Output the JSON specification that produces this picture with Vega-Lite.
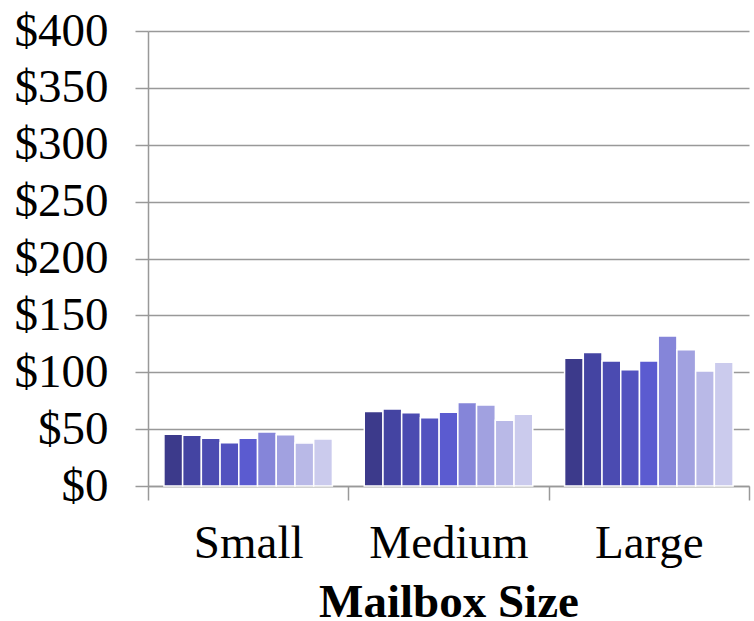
{
  "$schema": "https://vega.github.io/schema/vega-lite/v6.json",
  "width": 601,
  "height": 455,
  "autosize": {"type": "none"},
  "padding": {"left": 148, "top": 31, "right": 5, "bottom": 135},
  "background": "white",
  "config": {
    "view": {"stroke": null},
    "font": "Liberation Serif"
  },
  "data": {
    "values": [
      {"size": "Small", "series": "S1", "cost": 45.5},
      {"size": "Small", "series": "S2", "cost": 44.6},
      {"size": "Small", "series": "S3", "cost": 42},
      {"size": "Small", "series": "S4", "cost": 38},
      {"size": "Small", "series": "S5", "cost": 42},
      {"size": "Small", "series": "S6", "cost": 47.5},
      {"size": "Small", "series": "S7", "cost": 45},
      {"size": "Small", "series": "S8", "cost": 37.9},
      {"size": "Small", "series": "S9", "cost": 41.4},
      {"size": "Medium", "series": "S1", "cost": 65.4},
      {"size": "Medium", "series": "S2", "cost": 67.8},
      {"size": "Medium", "series": "S3", "cost": 64.3},
      {"size": "Medium", "series": "S4", "cost": 59.9},
      {"size": "Medium", "series": "S5", "cost": 64.9},
      {"size": "Medium", "series": "S6", "cost": 73.3},
      {"size": "Medium", "series": "S7", "cost": 71.3},
      {"size": "Medium", "series": "S8", "cost": 57.8},
      {"size": "Medium", "series": "S9", "cost": 63.1},
      {"size": "Large", "series": "S1", "cost": 112.4},
      {"size": "Large", "series": "S2", "cost": 117.3},
      {"size": "Large", "series": "S3", "cost": 109.8},
      {"size": "Large", "series": "S4", "cost": 102.1},
      {"size": "Large", "series": "S5", "cost": 110},
      {"size": "Large", "series": "S6", "cost": 131.8},
      {"size": "Large", "series": "S7", "cost": 119.7},
      {"size": "Large", "series": "S8", "cost": 101.2},
      {"size": "Large", "series": "S9", "cost": 108.9}
    ]
  },
  "mark": {"type": "bar", "stroke": "white", "strokeWidth": 1.5},
  "encoding": {
    "x": {
      "field": "size",
      "type": "nominal",
      "sort": ["Small", "Medium", "Large"],
      "scale": {"paddingInner": 0, "paddingOuter": 0},
      "axis": {
        "title": "Mailbox Size",
        "titleFont": "Liberation Serif",
        "titleFontSize": 47,
        "titleFontWeight": "bold",
        "titleColor": "black",
        "titlePadding": 13,
        "labelFont": "Liberation Serif",
        "labelFontSize": 47,
        "labelColor": "black",
        "labelAngle": 0,
        "labelPadding": 20,
        "tickBand": "extent",
        "tickSize": 14,
        "tickColor": "#999999",
        "tickWidth": 1.5,
        "domainColor": "#999999",
        "domainWidth": 1.5,
        "grid": false
      }
    },
    "xOffset": {
      "field": "series",
      "type": "nominal",
      "scale": {"paddingInner": 0, "paddingOuter": 0.85}
    },
    "y": {
      "field": "cost",
      "type": "quantitative",
      "scale": {"domain": [0, 400]},
      "axis": {
        "title": null,
        "values": [0, 50, 100, 150, 200, 250, 300, 350, 400],
        "format": "$,.0f",
        "labelFont": "Liberation Serif",
        "labelFontSize": 47,
        "labelColor": "black",
        "labelPadding": 27,
        "tickSize": 13,
        "tickColor": "#999999",
        "tickWidth": 1.5,
        "domainColor": "#999999",
        "domainWidth": 1.5,
        "gridColor": "#999999",
        "gridWidth": 1.5,
        "labelOverlap": false
      }
    },
    "color": {
      "field": "series",
      "type": "nominal",
      "legend": null,
      "scale": {
        "range": ["#3c3a8b", "#4444a2", "#4b4bb1", "#5252bf", "#5b5bd0", "#8585d9", "#a1a1e0", "#b9b9e7", "#cbcbed"]
      }
    }
  }
}
